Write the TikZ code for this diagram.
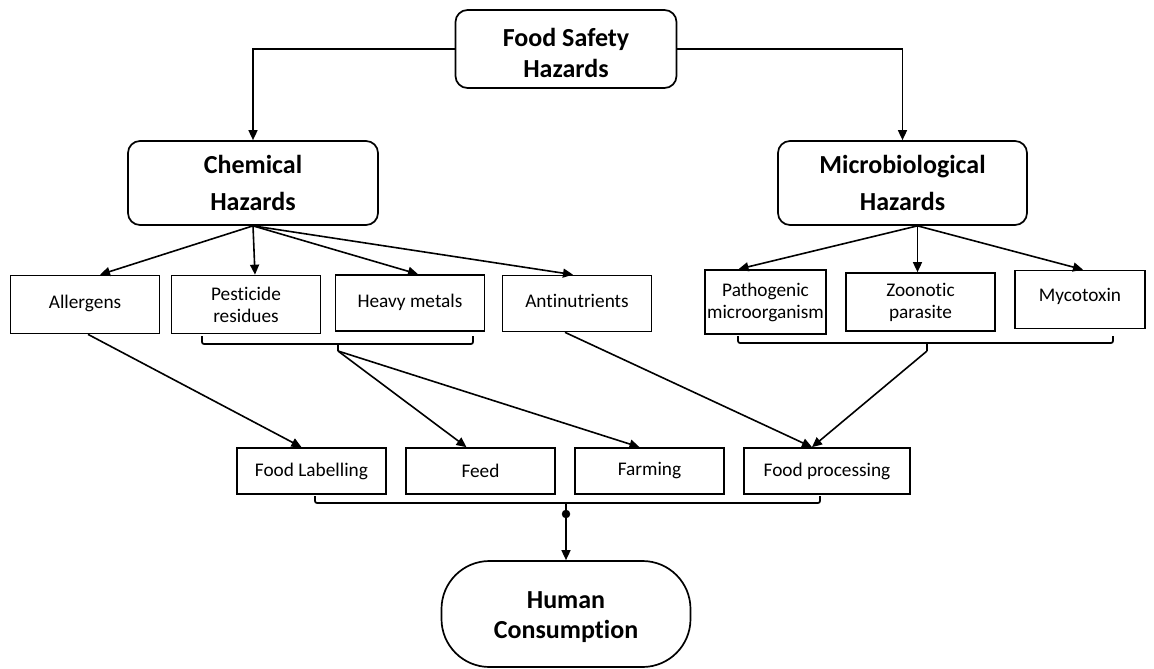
\documentclass[tikz,border=0pt]{standalone}
\usepackage{fontspec}
\setmainfont[Ligatures = NoCommon]{Carlito}
\usetikzlibrary{arrows.meta, positioning}

\tikzset{
	head/.style = {draw, line width = 1.7pt, rounded corners = 12pt, align = center, inner sep = 0pt,
		font = \fontsize{26}{37}\selectfont\bfseries},
	item/.style = {draw, line width = 1.7pt, align = center, inner sep = 0pt,
		font = \fontsize{19.3}{22}\selectfont},
	link/.style = {line width = 1.6pt, -{Triangle[length = 10pt, width = 9pt]}},
	brace/.style = {line width = 1.7pt, rounded corners = 2pt},
}

\begin{document}
\begin{tikzpicture}[x = 1pt, y = -1pt]
	\useasboundingbox (0,0) rectangle (1154,669);
	
	\def\rowH{58};
	\def\colW{149};
	
	% hazards
	\node [head, minimum width = 221pt, minimum height = 78pt, font = \fontsize{26}{31}\selectfont\bfseries] (safety) at (566,49) {\rule{0pt}{27pt}Food Safety\\Hazards};
	\node [head, minimum width = 250pt, minimum height = 84pt] (chem) at (253,183) {Chemical\\Hazards};
	\node [head, minimum width = 249pt, minimum height = 84pt] (micro) at (902.5,183) {Microbiological\\Hazards};
	
	\draw [link] (safety.west) -| (chem.north);
	\draw [link] (safety.east) -| (micro.north);
	
	% chemical
	\begin{scope}[every node/.style = {item, minimum width = \colW pt, minimum height = \rowH pt}]
		\node [text depth = 6pt] (allergen) at (85,304.5) {Allergens};
		\node (pest) at (246,304.5) {Pesticide\\residues};
		\node [minimum height = 56pt, text depth = 4pt] (heavy) at (410,303) {Heavy metals};
		\node [minimum height = 56pt, text depth = 6pt] (anti) at (577,303.5) {Antinutrients};
	\end{scope}
	
	\begin{scope}[link]
		\draw (chem.south) -- ([xshift = 15pt]allergen.north);
		\draw (chem.south) -- ([xshift = 9pt]pest.north);
		\draw (chem.south) -- ([xshift = 8pt]heavy.north);
		\draw (chem.south) -- ([xshift = -4pt]anti.north);
	\end{scope}
	
	% microbiological
	\begin{scope}[every node/.style = {item, minimum height = \rowH pt}]
		\node [minimum width = 121pt, minimum height = 64pt] (patho) at (765.5,302) {Pathogenic\\microorganism};
		\node [minimum width = \colW pt] (zoo) at (920.5,302) {Zoonotic\\parasite};
		\node [minimum width = 130pt, text depth = 10pt] (myco) at (1080,299.5) {Mycotoxin};
	\end{scope}
	
	\coordinate (microS) at ([xshift = 15pt]micro.south);
	\begin{scope}[link]
		\draw (microS) -- ([xshift = -27pt]patho.north);
		\draw (microS) -- (microS |- zoo.north);
		\draw (microS) -- ([xshift = 3pt]myco.north);
	\end{scope}
	
	% braces
	\draw [brace] (202,336) |- (473,344) -- (473,336);
	\draw [brace] (338,344) -- (338,351) coordinate (chemB);
	\draw [brace] (738,336) |- (1113,343) -- (1113,336);
	\draw [brace] (927,343) -- (927,351) coordinate (microB);
	
	% uses
	\begin{scope}[every node/.style = {item, minimum width = \colW pt, minimum height = 46pt}]
		\node (label) at (311.5,471) {Food Labelling};
		\node (feed) at (480.5,471) {Feed};
		\node (farm) at (649.5,471) {Farming};
		\node [minimum width = 166pt] (proc) at (827,471) {Food processing};
	\end{scope}
	
	\begin{scope}[link]
		\draw ([xshift = 3pt]allergen.south) -- ([xshift = -10pt]label.north);
		\draw (chemB) -- ([xshift = -14pt]feed.north);
		\draw (chemB) -- ([xshift = -10pt]farm.north);
		\draw ([xshift = -12pt]anti.south) -- ([xshift = -15pt]proc.north);
		\draw (microB) -- ([xshift = -15pt]proc.north);
	\end{scope}
	
	% consumption
	\draw [brace] (315,496) |- (820,503) -- (820,496);
	\node [draw, line width = 1.7pt, rounded corners = 48pt, minimum width = 249pt, minimum height = 106pt,
		align = center, inner sep = 0pt, font = \fontsize{26}{30}\selectfont\bfseries] (human) at (566,614) {\rule{0pt}{23pt}Human\\Consumption};
	\filldraw (566,514) circle [radius = 4pt] coordinate (dot);
	\draw [brace] (566,503) -- (dot);
	\draw [link] (dot) -- (human.north);
\end{tikzpicture}
\end{document}
